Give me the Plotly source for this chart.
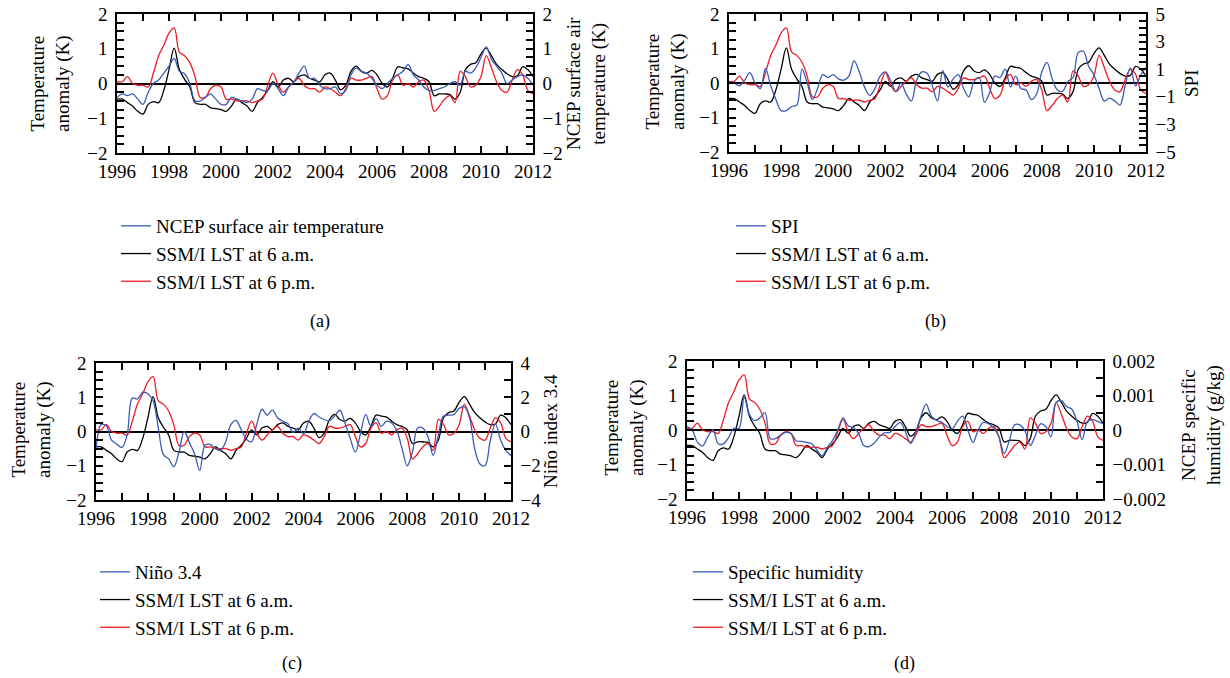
import numpy as np
import plotly.graph_objects as go

W, H = 1230, 678

# ---------------- data (anomalies, 0.2-year sampling, 1996.0 .. 2012.0) ----------------
years = np.round(np.arange(1996.0, 2012.0001, 0.2), 1)

lst_6am = [-0.45, -0.45, -0.55, -0.65, -0.80,
           -0.88, -0.60, -0.52, -0.55, -0.20,
           0.40, 1.02, 0.40, 0.12, -0.10,
           -0.55, -0.60, -0.60, -0.70, -0.72,
           -0.75, -0.80, -0.65, -0.45, -0.55,
           -0.65, -0.80, -0.55, -0.40, -0.20,
           0.05, -0.10, 0.10, 0.15, 0.05,
           0.20, 0.25, 0.15, 0.10, 0.05,
           0.25, 0.30, 0.10, -0.18, -0.05,
           0.35, 0.50, 0.35, 0.30, 0.38,
           0.25, 0.00, -0.10, 0.15, 0.48,
           0.45, 0.42, 0.30, 0.20, 0.15,
           0.05, -0.35, -0.30, -0.30, -0.32,
           -0.45, -0.25, 0.40, 0.55, 0.60,
           0.85, 1.02, 0.80, 0.55, 0.40,
           0.28, 0.20, 0.22, 0.48, 0.40,
           0.20]

lst_6pm = [0.05, 0.05, 0.20, 0.00, -0.05,
           -0.05, -0.10, 0.30, 0.80, 1.10,
           1.45, 1.60, 0.90, 0.80, 0.60,
           0.20, -0.40, -0.40, -0.15, -0.05,
           -0.10, -0.45, -0.45, -0.50, -0.50,
           -0.50, -0.55, -0.50, -0.45, -0.05,
           0.30, -0.05, -0.25, -0.10, 0.05,
           0.15, -0.05, -0.15, -0.15, -0.25,
           -0.10, -0.15, -0.25, -0.35, -0.15,
           0.15, 0.10, 0.10, 0.15, 0.20,
           -0.15, -0.45, -0.35, 0.10, 0.25,
           -0.05, 0.00, -0.10, 0.05, 0.10,
           -0.20, -0.80, -0.65, -0.45, -0.35,
           -0.55, 0.35, 0.20, -0.10, -0.05,
           0.20, 0.80, 0.45, 0.05, -0.20,
           -0.25, 0.10, 0.40, 0.25, -0.20,
           -0.30]

ncep_air = [-0.40, -0.30, -0.35, -0.30, -0.45,
            -0.60, -0.25, 0.00, 0.10, 0.30,
            0.50, 0.72, 0.35, 0.28, 0.00,
            -0.50, -0.50, -0.40, -0.30, -0.45,
            -0.60, -0.60, -0.40, -0.45, -0.50,
            -0.55, -0.45, -0.15, -0.20, -0.20,
            0.00, -0.15, -0.35, -0.10, 0.05,
            0.30, 0.50, 0.15, 0.15, -0.05,
            -0.15, -0.15, -0.10, -0.30, -0.20,
            0.25, 0.45, 0.35, 0.30, 0.15,
            -0.05, -0.15, 0.00, 0.15, 0.25,
            0.35, 0.55, 0.25, 0.10, -0.10,
            -0.20, -0.20, -0.15, -0.10, 0.00,
            0.05, -0.05, 0.35, 0.30, 0.45,
            0.75, 1.05, 0.70, 0.50, 0.30,
            0.00, 0.10, 0.20, 0.25, 0.15,
            -0.05]

spi = [0.1, 0.0, -0.2, 0.2, 0.75,
       0.0, -0.4, 1.05, -0.2, -1.2,
       -2.0, -2.0, -1.7, -1.6, 1.0,
       0.0, -1.2, -0.4, 0.6, 0.4,
       0.6, 0.3, 0.2, 0.5, 1.6,
       0.8, -0.3, -0.9, -0.4, 0.5,
       0.8, 0.2, -0.6, 0.0, -0.8,
       -1.3, 0.2, 0.8, 0.7, -0.2,
       -1.3, 0.9, -0.3, 0.3, 0.6,
       -0.4, -1.0, 0.1, 0.4, -1.4,
       -0.7, 0.5, 0.4, 1.0, -0.3,
       0.5, -0.4, -0.5, -1.2, -0.8,
       0.8, 1.5, 0.3, -0.5, -0.6,
       0.1, 0.4, 2.2, 2.3, 1.2,
       0.6, -0.4, -1.3, -1.1, -1.3,
       -1.6, -0.2, 1.1, -0.2, 0.6,
       1.1]

nino34 = [-1.10, 0.40, 0.33, -0.50, -0.73,
          -0.93, -0.20, 1.95, 1.90, 2.30,
          2.20, 1.80, 0.23, -1.35, -1.60,
          -2.05, -1.20, 0.00, -0.65, -1.30,
          -2.28, -0.80, -0.75, -1.00, -1.10,
          -0.60, 0.40, 0.65, 0.10, -0.45,
          -0.60, 0.43, 1.30, 0.95, 1.25,
          0.80, 0.60, 0.45, -0.05, 0.20,
          -0.15, 0.60, 1.05, 0.85, 0.70,
          0.62, 0.90, 1.24, 0.50, -0.40,
          -1.20, -0.10, 1.00, 0.30, 0.75,
          0.30, 0.60, 0.50, 0.04, -1.00,
          -2.00, -1.20, 0.20, 0.20, -0.30,
          -1.40, -0.20, 0.90, 0.95, 1.00,
          1.35, 1.45, 0.80, -1.00, -1.90,
          -2.00, -0.54, 0.45, -0.50, -1.10,
          -1.41]

spec_hum = [0.00010, 0.00000, -0.00035, -0.00046, -0.00020,
            0.00000, -0.00040, -0.00040, -0.00022, 0.00005,
            0.00005, 0.00095, 0.00045, 0.00027, 0.00035,
            0.00050, -0.00025, -0.00025, -0.00015, -0.00007,
            -0.00010, -0.00031, -0.00033, -0.00036, -0.00040,
            -0.00058, -0.00075, -0.00050, -0.00030, 0.00000,
            0.00035, 0.00012, 0.00007, -0.00010, -0.00045,
            -0.00048, -0.00038, -0.00020, -0.00008, -0.00007,
            0.00010, 0.00022, -0.00005, -0.00039, -0.00005,
            0.00040, 0.00075, 0.00040, 0.00028, 0.00022,
            0.00010, 0.00003, 0.00025, 0.00040, 0.00000,
            -0.00036, 0.00000, 0.00022, 0.00018, 0.00005,
            -0.00020, -0.00068, -0.00030, 0.00015, 0.00015,
            -0.00003, -0.00045, -0.00015, 0.00018, 0.00010,
            -0.00020, 0.00080, 0.00085, 0.00068, 0.00060,
            0.00025, -0.00028, 0.00025, 0.00030, 0.00025,
            0.00018]

year_ticks = [1996, 1998, 2000, 2002, 2004, 2006, 2008, 2010, 2012]

panels = [
    dict(tag="(a)", blue=ncep_air, blue_name="NCEP surface air temperature",
         rrange=[-2, 2], rtick0=0, rdtick=1, rminor=0.25,
         rtitle="NCEP surface air<br>temperature (K)"),
    dict(tag="(b)", blue=spi, blue_name="SPI",
         rrange=[-5, 5], rtick0=1, rdtick=2, rminor=0.5, rtitle="SPI"),
    dict(tag="(c)", blue=nino34, blue_name="Niño 3.4",
         rrange=[-4, 4], rtick0=0, rdtick=2, rminor=1, rtitle="Niño index 3.4"),
    dict(tag="(d)", blue=spec_hum, blue_name="Specific humidity",
         rrange=[-0.002, 0.002], rtick0=0, rdtick=0.001, rminor=0.0005,
         rtitle="NCEP specific<br>humidity (g/kg)"),
]

# ---------------- layout geometry (pixels) ----------------
geom = [
    dict(x0=117, x1=533, y0=14, y1=153, ltx=51, lty=84, rtx=587, rty=84,
         legx=116, legy=207, capx=320, capy=322),
    dict(x0=729, x1=1146, y0=14, y1=152, ltx=665, lty=82, rtx=1192, rty=84,
         legx=731, legy=207, capx=935, capy=322),
    dict(x0=96, x1=511, y0=363, y1=500, ltx=32, lty=430, rtx=550, rty=431,
         legx=95, legy=553, capx=292, capy=663),
    dict(x0=687, x1=1103, y0=361, y1=499, ltx=624, lty=428, rtx=1201, rty=425,
         legx=688, legy=553, capx=905, capy=663),
]

FONT = "Liberation Serif"
FS = 19
BLUE, BLACK, RED = "#3b5bb5", "#000000", "#ee1c24"

def px(x):
    return x / W

def py(y):
    return 1 - y / H

fig = go.Figure()
layout = dict(
    width=W, height=H, margin=dict(l=0, r=0, t=0, b=0, autoexpand=False),
    paper_bgcolor="white", plot_bgcolor="white",
    font=dict(family=FONT, size=FS, color="black"),
    annotations=[],
)

axis_common = dict(showline=True, linecolor="black", linewidth=1.5,
                   ticks="inside", ticklen=7, tickwidth=1.5, tickcolor="black",
                   showgrid=False, zeroline=False, automargin=False,
                   tickfont=dict(family=FONT, size=FS, color="black"))

for i, (p, g) in enumerate(zip(panels, geom)):
    n = i + 1
    xa = "x" if n == 1 else f"x{n}"
    yl_n = 2 * i + 1
    yr_n = 2 * i + 2
    yl = "y" if yl_n == 1 else f"y{yl_n}"
    yr = f"y{yr_n}"
    leg = "legend" if n == 1 else f"legend{n}"

    xdom = [px(g["x0"]), px(g["x1"])]
    ydom = [py(g["y1"]), py(g["y0"])]

    layout["xaxis" if n == 1 else f"xaxis{n}"] = dict(
        axis_common, domain=xdom, anchor=yl, range=[1996, 2012],
        tickvals=year_ticks, mirror="ticks",
        minor=dict(dtick=1, tick0=1996, ticks="inside", ticklen=7,
                   tickwidth=1.5, tickcolor="black"))
    layout["yaxis" if yl_n == 1 else f"yaxis{yl_n}"] = dict(
        axis_common, domain=ydom, anchor=xa, range=[-2, 2], tick0=0, dtick=1,
        zeroline=True, zerolinecolor="black", zerolinewidth=1.5,
        ticklabelstandoff=4,
        minor=dict(dtick=0.25, ticks="inside", ticklen=7, tickwidth=1.5,
                   tickcolor="black"))
    layout[f"yaxis{yr_n}"] = dict(
        axis_common, overlaying=yl, side="right", anchor=xa,
        range=p["rrange"], tick0=p["rtick0"], dtick=p["rdtick"],
        ticklabelstandoff=4,
        minor=dict(dtick=p["rminor"], ticks="inside", ticklen=7,
                   tickwidth=1.5, tickcolor="black"))

    fig.add_trace(go.Scatter(x=years, y=p["blue"], name=p["blue_name"],
                             mode="lines", line=dict(color=BLUE, width=1.3, shape="spline"),
                             xaxis=xa, yaxis=yr, legend=leg, legendgroup=f"b{n}"))
    fig.add_trace(go.Scatter(x=years, y=lst_6am, name="SSM/I LST at 6 a.m.",
                             mode="lines", line=dict(color=BLACK, width=1.3, shape="spline"),
                             xaxis=xa, yaxis=yl, legend=leg, legendgroup=f"k{n}"))
    fig.add_trace(go.Scatter(x=years, y=lst_6pm, name="SSM/I LST at 6 p.m.",
                             mode="lines", line=dict(color=RED, width=1.3, shape="spline"),
                             xaxis=xa, yaxis=yl, legend=leg, legendgroup=f"r{n}"))

    layout[leg] = dict(x=px(g["legx"]), y=py(g["legy"]), xanchor="left", yanchor="top",
                       bgcolor="rgba(0,0,0,0)", borderwidth=0, tracegroupgap=0,
                       font=dict(family=FONT, size=FS, color="black"),
                       traceorder="normal")

    layout["annotations"] += [
        dict(text="Temperature<br>anomaly (K)", x=px(g["ltx"]), y=py(g["lty"]),
             xref="paper", yref="paper", showarrow=False, textangle=-90,
             xanchor="center", yanchor="middle", font=dict(family=FONT, size=FS)),
        dict(text=p["rtitle"], x=px(g["rtx"]), y=py(g["rty"]),
             xref="paper", yref="paper", showarrow=False, textangle=-90,
             xanchor="center", yanchor="middle", font=dict(family=FONT, size=FS)),
        dict(text=p["tag"], x=px(g["capx"]), y=py(g["capy"]),
             xref="paper", yref="paper", showarrow=False,
             xanchor="center", yanchor="middle", font=dict(family=FONT, size=FS - 1)),
    ]

fig.update_layout(**layout)
fig.write_html("out.html", config={"displayModeBar": False},
               post_script="document.body.style.margin='0px';document.body.style.overflow='hidden';")
